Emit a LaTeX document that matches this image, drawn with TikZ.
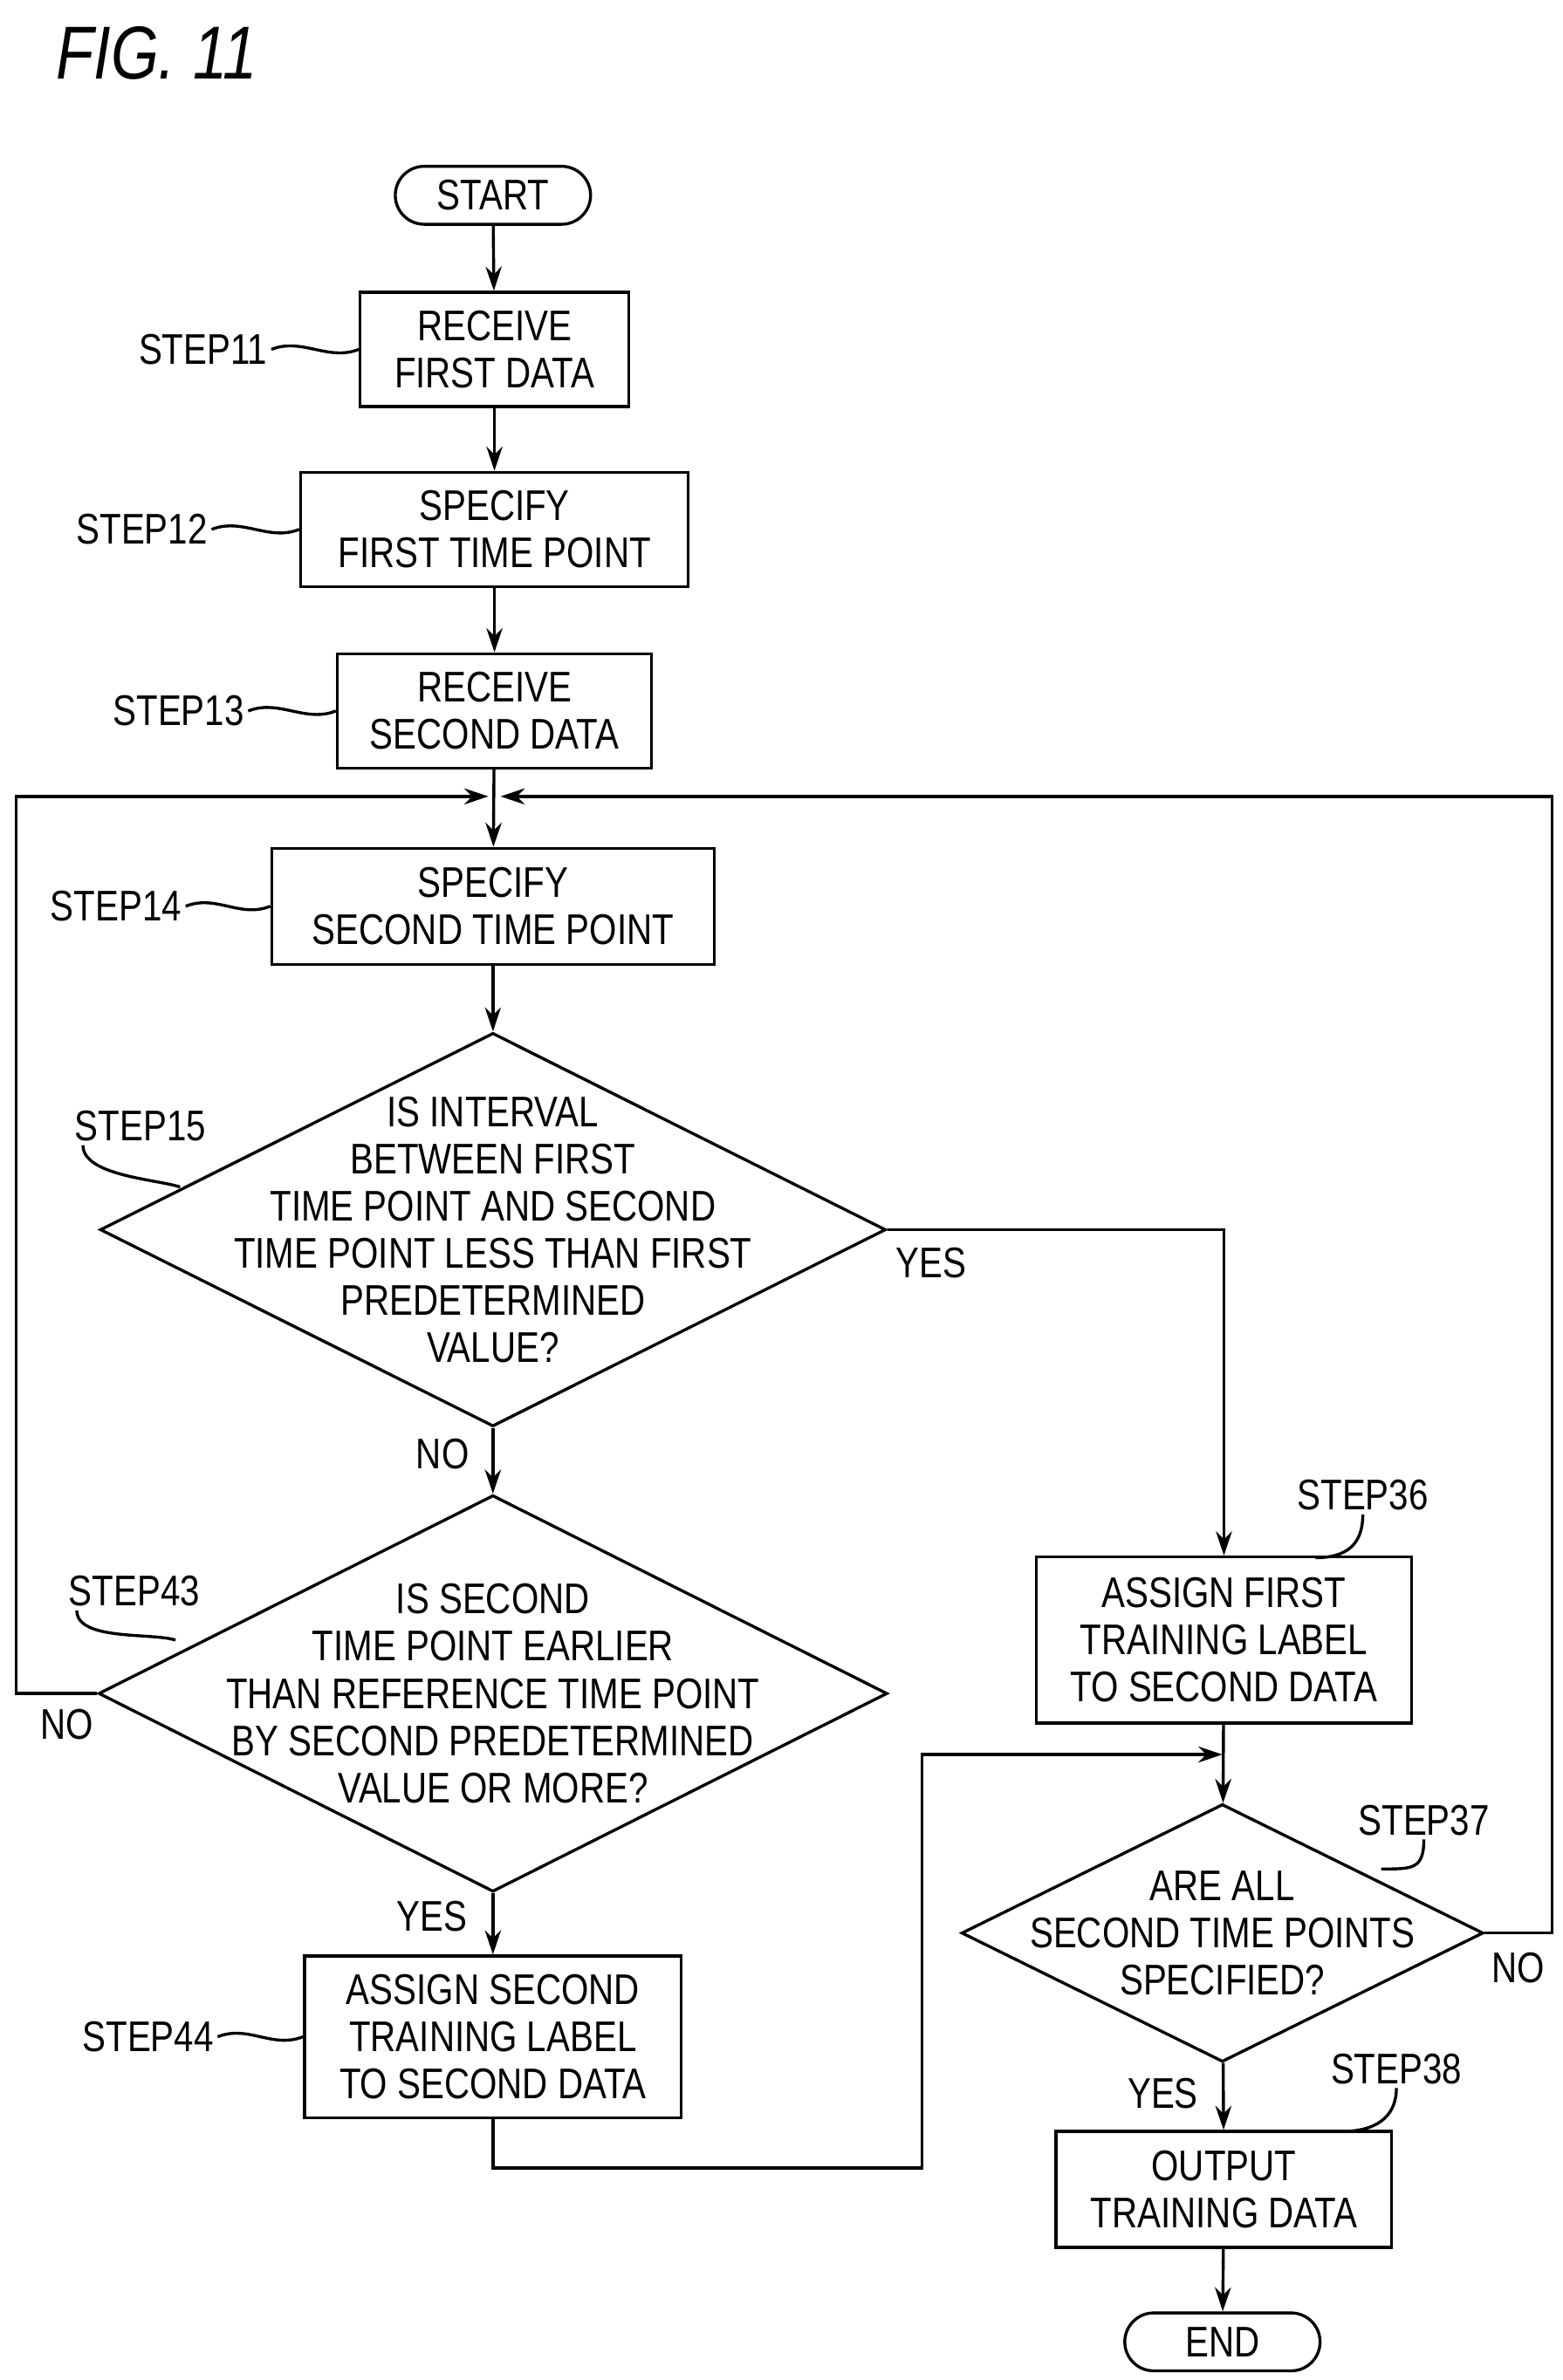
\documentclass[tikz,border=0pt]{standalone}
\usepackage{fontspec}
\setmainfont[FakeStretch=0.82]{Liberation Sans}
\usetikzlibrary{shapes.geometric, shapes.misc, arrows.meta}

\begin{document}
\begin{tikzpicture}[
		x=0.02cm, y=-0.02cm,
		font=\fontsize{16}{17.6}\selectfont,
		every path/.style={line width=1.1pt},
		arr/.style={-{Stealth[length=9pt,width=6pt]}},
		box/.style={draw, rectangle, align=center, inner sep=0pt},
		term/.style={draw, rounded rectangle, minimum width=2.56cm, minimum height=0.76cm, inner sep=0pt},
		decision/.style={draw, diamond, inner sep=0pt, label={[align=center]center:#1}},
		tag/.style={inner sep=1pt}
	]
	\useasboundingbox (0,0) rectangle (1024,1560);
	\node[font=\fontsize{28}{30}\selectfont\itshape, anchor=west] (title) at (30,35) {FIG. 11};
	
	% left column
	\node[term] (start) at (323,128) {START};
	\node[box, minimum width=3.52cm, minimum height=1.5cm] (s11) at (324,229) {RECEIVE\\FIRST DATA};
	\node[box, minimum width=5.08cm, minimum height=1.5cm] (s12) at (324,347) {SPECIFY\\FIRST TIME POINT};
	\node[box, minimum width=4.12cm, minimum height=1.5cm] (s13) at (324,466) {RECEIVE\\SECOND DATA};
	\node[box, minimum width=5.8cm, minimum height=1.52cm] (s14) at (323,594) {SPECIFY\\SECOND TIME POINT};
	\node[decision={IS INTERVAL\\BETWEEN FIRST\\TIME POINT AND SECOND\\TIME POINT LESS THAN FIRST\\PREDETERMINED\\VALUE?}, minimum width=10.3cm, minimum height=5.16cm] (s15) at (323,806) {};
	\node[decision={IS SECOND\\TIME POINT EARLIER\\THAN REFERENCE TIME POINT\\BY SECOND PREDETERMINED\\VALUE OR MORE?}, minimum width=10.34cm, minimum height=5.2cm] (s43) at (323,1110) {};
	\node[box, minimum width=4.94cm, minimum height=2.12cm] (s44) at (323,1335) {ASSIGN SECOND\\TRAINING LABEL\\TO SECOND DATA};
	
	% right column
	\node[box, minimum width=4.92cm, minimum height=2.18cm] (s36) at (802,1075) {ASSIGN FIRST\\TRAINING LABEL\\TO SECOND DATA};
	\node[decision={ARE ALL\\SECOND TIME POINTS\\SPECIFIED?}, minimum width=6.84cm, minimum height=3.38cm] (s37) at (801,1267) {};
	\node[box, minimum width=4.4cm, minimum height=1.52cm] (s38) at (802,1435) {OUTPUT\\TRAINING DATA};
	\node[term] (stop) at (801,1535) {END};
	
	% step tags
	\node[tag] (l11) at (133,229) {STEP11};
	\node[tag] (l12) at (93,347) {STEP12};
	\node[tag] (l13) at (117,466) {STEP13};
	\node[tag] (l14) at (76,594) {STEP14};
	\node[tag] (l15) at (92,738) {STEP15};
	\node[tag] (l43) at (88,1043) {STEP43};
	\node[tag] (l44) at (97,1335) {STEP44};
	\node[tag] (l36) at (893,980) {STEP36};
	\node[tag] (l37) at (933,1193) {STEP37};
	\node[tag] (l38) at (915,1356) {STEP38};
	
	\draw (l11.east) .. controls +(20,-8) and +(-20,8) .. (s11.west);
	\draw (l12.east) .. controls +(20,-8) and +(-20,8) .. (s12.west);
	\draw (l13.east) .. controls +(20,-8) and +(-20,8) .. (s13.west);
	\draw (l14.east) .. controls +(20,-8) and +(-20,8) .. (s14.west);
	\draw (l15.south west) ++(8,0) .. controls +(0,20) and +(-15,-5) .. (118,778);
	\draw (l43.south west) ++(8,0) .. controls +(0,20) and +(-15,-5) .. (115,1075);
	\draw (l44.east) .. controls +(20,-8) and +(-20,8) .. (s44.west);
	\draw (l36.south) .. controls +(0,20) and +(20,0) .. (862,1021);
	\draw (l37.south) .. controls +(0,20) and +(20,0) .. (905,1225);
	\draw (l38.south) .. controls +(0,20) and +(20,0) .. (880,1397);
	
	% labels on connectors
	\node (yes15) at (610,828) {YES};
	\node (no15) at (290,953) {NO};
	\node (no43) at (44,1130) {NO};
	\node (yes43) at (283,1256) {YES};
	\node (no37) at (995,1290) {NO};
	\node (yes37) at (762,1372) {YES};
	
	% connectors
	\coordinate (joinL) at (320,522);
	\coordinate (joinR) at (328,522);
	\coordinate (mergeB) at (801,1150);
	\draw[arr] (start) -- (s11);
	\draw[arr] (s11) -- (s12);
	\draw[arr] (s12) -- (s13);
	\draw[arr] (s13) -- (s14);
	\draw[arr] (s14) -- (s15);
	\draw[arr] (s15) -- (s43);
	\draw[arr] (s43) -- (s44);
	\draw[arr] (s15.east) -| (s36.north);
	\draw[arr] (s43.west) -- ++(-53,0) |- (joinL);
	\draw[arr] (s44.south) -- ++(0,32) -| (604,1150) -- (mergeB);
	\draw[arr] (s36) -- (s37);
	\draw[arr] (s37.east) -- ++(44,0) |- (joinR);
	\draw[arr] (s37) -- (s38);
	\draw[arr] (s38) -- (stop);
\end{tikzpicture}
\end{document}
